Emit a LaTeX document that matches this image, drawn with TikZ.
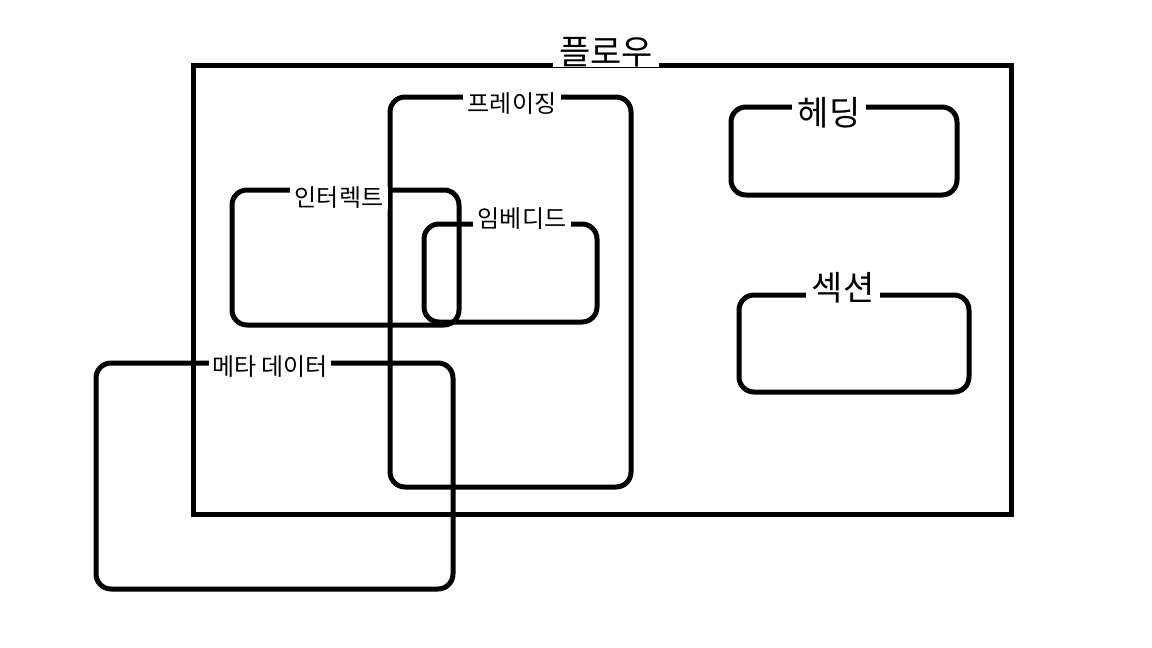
\documentclass[tikz,border=0pt]{standalone}
\usepackage{fontspec}
\setmainfont{Noto Sans CJK KR}
\begin{document}
\begin{tikzpicture}[x=1pt,y=-1pt,
  box/.style={draw=black,line width=5pt,rounded corners=15pt},
  sharpbox/.style={draw=black,line width=5pt},
  lab/.style={fill=white,inner xsep=5pt,inner ysep=0pt,font=\fontsize{24}{24}\selectfont},
  biglab/.style={fill=white,inner xsep=6pt,inner ysep=0pt,font=\fontsize{34}{34}\selectfont}]
\useasboundingbox (0,0) rectangle (1152,648);
\path[sharpbox] (193,65) rectangle (1011,514);
\path[box] (390,97) rectangle (631,487);
\path[box] (232,190) rectangle (459,325);
\path[box] (424,224) rectangle (597,322);
\path[box] (96,363) rectangle (453,589);
\path[box] (731,107) rectangle (957,195);
\path[box] (739,295) rectangle (969,392);
\node[biglab] (flow) at (606,52) {플로우};
\node[lab] (framing) at (512,104) {프레이징};
\node[lab] (interact) at (339,198) {인터렉트};
\node[lab] (embed) at (522,219) {임베디드};
\node[lab,inner xsep=3pt] (meta) at (270,367) {메타 데이터\hspace{7pt}};
\node[biglab] (heading) at (829,113) {헤딩};
\node[biglab] (section) at (843,288) {섹션};
\end{tikzpicture}
\end{document}
